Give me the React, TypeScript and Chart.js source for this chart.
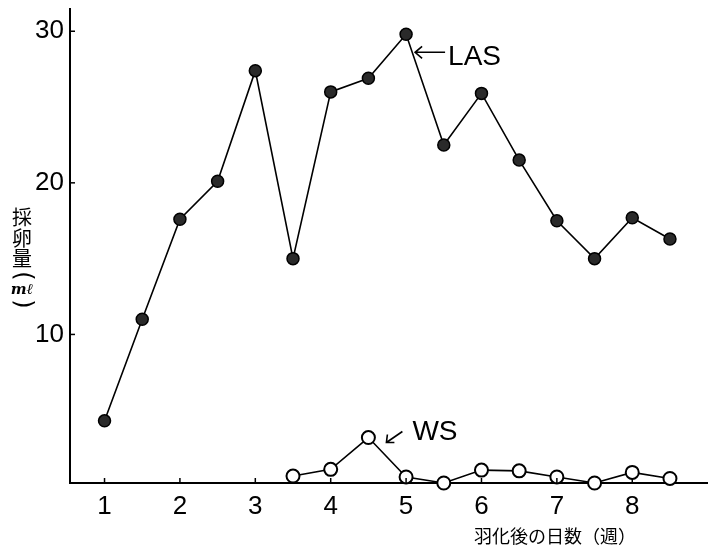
import React, { useEffect, useRef } from "react";
import { Chart, registerables } from "chart.js";

Chart.register(...registerables);

const lasWeeks = [1, 1.5, 2, 2.5, 3, 3.5, 4, 4.5, 5, 5.5, 6, 6.5, 7, 7.5, 8, 8.5];
const lasValues = [4.3, 11.0, 17.6, 20.1, 27.4, 15.0, 26.0, 26.9, 29.8, 22.5, 25.9, 21.5, 17.5, 15.0, 17.7, 16.3];
const wsWeeks = [3.5, 4, 4.5, 5, 5.5, 6, 6.5, 7, 7.5, 8, 8.5];
const wsValues = [0.66, 1.1, 3.2, 0.6, 0.2, 1.05, 1.0, 0.6, 0.2, 0.9, 0.5];
const xTicks = [1, 2, 3, 4, 5, 6, 7, 8];
const yTicks = [10, 20, 30];
const yTitleChars = ["採", "卵", "量", "(", "mℓ", ")"];
const xTitle = "羽化後の日数（週）";
const lasLabel = "LAS";
const wsLabel = "WS";

const FONT = "'Liberation Sans', 'DejaVu Sans', sans-serif";
const CJK = "'Noto Sans CJK JP', sans-serif";

const overlay = {
  id: "overlay",
  afterDraw(chart: any) {
    const ctx = chart.ctx;
    const xs = chart.scales.x;
    const ys = chart.scales.y;
    const area = chart.chartArea;
    ctx.save();
    ctx.strokeStyle = "#000";
    ctx.fillStyle = "#000";
    ctx.lineWidth = 1.5;
    // inward ticks
    xTicks.forEach((v) => {
      const px = xs.getPixelForValue(v);
      ctx.beginPath();
      ctx.moveTo(px, area.bottom);
      ctx.lineTo(px, area.bottom - 5);
      ctx.stroke();
    });
    yTicks.forEach((v) => {
      const py = ys.getPixelForValue(v);
      ctx.beginPath();
      ctx.moveTo(area.left, py);
      ctx.lineTo(area.left + 5, py);
      ctx.stroke();
    });
    // y title
    ctx.textAlign = "center";
    ctx.textBaseline = "middle";
    const ys0 = [217, 238, 258, 276, 290, 304];
    yTitleChars.forEach((c, i) => {
      if (c === "mℓ") {
        ctx.font = `italic bold 15px 'DejaVu Serif', serif`;
        ctx.fillText(c, 22, ys0[i]);
      } else if (c === "(" || c === ")") {
        ctx.save();
        ctx.translate(22, ys0[i]);
        ctx.rotate(Math.PI / 2);
        ctx.font = `24px 'DejaVu Sans', sans-serif`;
        ctx.fillText(c, 0, 0);
        ctx.restore();
      } else {
        ctx.font = `20px ${CJK}`;
        ctx.fillText(c, 22, ys0[i]);
      }
    });
    // x title
    ctx.font = `18px ${CJK}`;
    ctx.fillText(xTitle, 555, 536);

    // LAS annotation
    const lp = { x: xs.getPixelForValue(5), y: ys.getPixelForValue(29.8) };
    const tip = { x: lp.x + 9, y: lp.y + 18 };
    ctx.lineWidth = 1.6;
    ctx.beginPath();
    ctx.moveTo(tip.x, tip.y);
    ctx.lineTo(tip.x + 30, tip.y);
    ctx.moveTo(tip.x + 7, tip.y - 6);
    ctx.lineTo(tip.x, tip.y);
    ctx.lineTo(tip.x + 7, tip.y + 6);
    ctx.stroke();
    ctx.textAlign = "left";
    ctx.font = `28px ${FONT}`;
    ctx.fillText(lasLabel, tip.x + 33, tip.y + 5);

    // WS annotation
    const wp = { x: xs.getPixelForValue(4.5), y: ys.getPixelForValue(3.2) };
    const wt = { x: wp.x + 18, y: wp.y + 5 };
    ctx.beginPath();
    ctx.moveTo(wt.x + 16, wt.y - 11);
    ctx.lineTo(wt.x, wt.y);
    ctx.moveTo(wt.x + 1, wt.y - 8);
    ctx.lineTo(wt.x, wt.y);
    ctx.lineTo(wt.x + 8, wt.y);
    ctx.stroke();
    ctx.fillText(wsLabel, wp.x + 44, wp.y - 5);
    ctx.restore();
  },
};

export default function App() {
  const ref = useRef<HTMLCanvasElement>(null);
  useEffect(() => {
    if (!ref.current) return;
    const chart = new Chart(ref.current, {
      type: "line",
      data: {
        datasets: [
          {
            label: lasLabel,
            data: lasWeeks.map((w, i) => ({ x: w, y: lasValues[i] })),
            borderColor: "#000",
            borderWidth: 1.6,
            backgroundColor: "#222",
            pointBackgroundColor: "#2a2a2a",
            pointBorderColor: "#000",
            pointBorderWidth: 1.5,
            pointRadius: 6,
            tension: 0,
            clip: false as any,
          },
          {
            label: wsLabel,
            data: wsWeeks.map((w, i) => ({ x: w, y: wsValues[i] })),
            borderColor: "#000",
            borderWidth: 1.6,
            backgroundColor: "#fff",
            pointBackgroundColor: "#fff",
            pointBorderColor: "#000",
            pointBorderWidth: 2,
            pointRadius: 6.5,
            tension: 0,
            clip: false as any,
          },
        ],
      },
      options: {
        responsive: false,
        animation: false,
        layout: { padding: { left: 0, top: 7, right: 0, bottom: 0 } },
        plugins: { legend: { display: false }, tooltip: { enabled: false } },
        scales: {
          x: {
            type: "linear",
            min: 0.542,
            max: 8.998,
            afterFit: (s: any) => {
              s.height = 66;
              s.paddingLeft = 0;
              s.paddingRight = 0;
              s.paddingTop = 0;
              s.paddingBottom = 0;
            },
            afterBuildTicks: (s: any) => {
              s.ticks = xTicks.map((v) => ({ value: v }));
            },
            grid: { display: false, drawTicks: false },
            border: { display: true, color: "#000", width: 2 },
            ticks: {
              color: "#000",
              font: { family: FONT, size: 26 },
              padding: 8,
              maxRotation: 0,
              autoSkip: false,
            },
          },
          y: {
            type: "linear",
            min: 0.2,
            max: 31.5,
            afterFit: (s: any) => {
              s.width = 70;
              s.paddingLeft = 0;
              s.paddingRight = 0;
              s.paddingTop = 0;
              s.paddingBottom = 0;
            },
            afterBuildTicks: (s: any) => {
              s.ticks = yTicks.map((v) => ({ value: v }));
            },
            grid: { display: false, drawTicks: false },
            border: { display: true, color: "#000", width: 2 },
            ticks: {
              color: "#000",
              font: { family: FONT, size: 26 },
              padding: 6,
            },
          },
        },
      },
      plugins: [overlay],
    });
    return () => chart.destroy();
  }, []);
  return (
    <div style={{ position: "fixed", left: 0, top: 0, width: 716, height: 549, background: "#fff" }}>
      <canvas ref={ref} width={716} height={549} style={{ width: 716, height: 549 }} />
    </div>
  );
}
